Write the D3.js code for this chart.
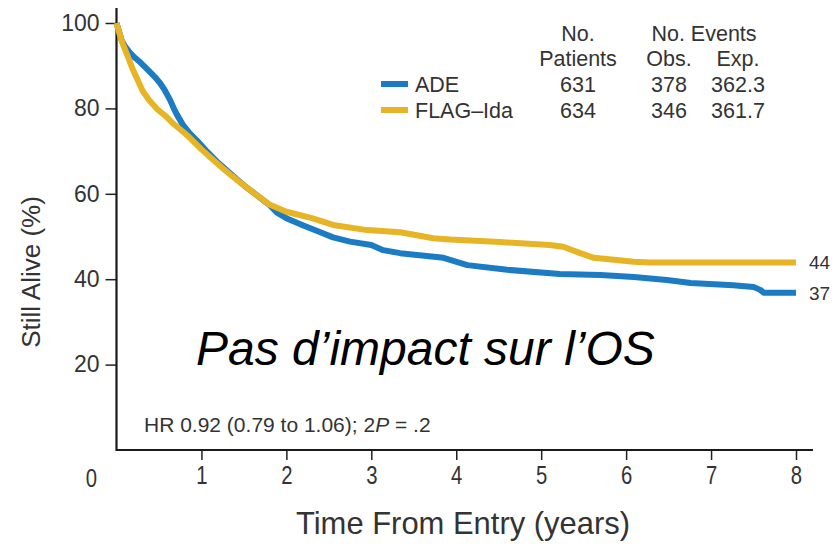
<!DOCTYPE html>
<html>
<head>
<meta charset="utf-8">
<script src="https://cdn.jsdelivr.net/npm/d3@7/dist/d3.min.js"></script>
<style>
  body { margin: 0; background: #fff; }
  svg { display: block; }
  text { font-family: "Liberation Sans", Arial, sans-serif; fill: #333; }
</style>
</head>
<body>
<svg width="832" height="547"></svg>
<script>
// survival curves (years, % alive)
const adeTime = [0, 0.03, 0.06, 0.1, 0.16, 0.22, 0.28, 0.34, 0.39, 0.45, 0.51, 0.57, 0.63, 0.67, 0.71, 0.78, 0.86, 0.95, 1.07, 1.2, 1.37, 1.5, 1.65, 1.8, 1.89, 2.0, 2.2, 2.4, 2.55, 2.75, 3.0, 3.14, 3.34, 3.85, 4.13, 4.6, 5.22, 5.7, 6.09, 6.48, 6.76, 7.26, 7.5, 7.58, 7.62, 8.0];
const adeSurv = [100, 98, 96, 94.5, 93, 91.8, 90.8, 89.6, 88.6, 87.4, 86, 84.2, 82, 80.2, 78.6, 76.2, 74.2, 72.4, 69.8, 67.2, 64.2, 62, 59.7, 57.4, 55.6, 54.3, 52.6, 51, 49.8, 48.8, 48, 46.8, 46.1, 45, 43.3, 42.2, 41.2, 41, 40.5, 39.8, 39.1, 38.6, 38.2, 37.5, 36.8, 36.8];
const flagTime = [0, 0.04, 0.08, 0.14, 0.19, 0.25, 0.31, 0.39, 0.48, 0.59, 0.67, 0.78, 0.87, 1.0, 1.1, 1.25, 1.37, 1.5, 1.65, 1.8, 2.0, 2.3, 2.55, 2.95, 3.34, 3.73, 3.93, 4.52, 5.1, 5.26, 5.46, 5.62, 6.09, 6.28, 8.0];
const flagSurv = [100, 97.2, 94.8, 91.8, 89.2, 86.6, 84, 81.8, 79.8, 78, 76.4, 74.6, 73, 70.4, 68.6, 66, 64, 62, 59.7, 57.5, 55.8, 54.3, 52.7, 51.5, 51, 49.6, 49.3, 48.7, 48, 47.6, 46.1, 45, 44.1, 43.9, 43.9];

// legend table
const groups = ["ADE", "FLAG\u2013Ida"];
const patients = ["631", "634"];
const obsEvents = ["378", "346"];
const expEvents = ["362.3", "361.7"];
const endLabels = ["37", "44"];
const colors = ["#1b7bc3", "#e6b424"];

const xTicks = [1, 2, 3, 4, 5, 6, 7, 8];
const yTicks = [20, 40, 60, 80, 100];

var svg = d3.select("svg");

var x = d3.scaleLinear().domain([0, 8]).range([116.5, 796]);
var y = d3.scaleLinear().domain([0, 100]).range([450, 23]);

var series = [
  { name: groups[0], pts: d3.zip(adeTime, adeSurv), color: colors[0], end: endLabels[0] },
  { name: groups[1], pts: d3.zip(flagTime, flagSurv), color: colors[1], end: endLabels[1] }
];

// axes
var yAxis = svg.append("g")
  .attr("transform", "translate(" + x(0) + ",0)")
  .call(d3.axisLeft(y).tickValues(yTicks).tickSize(11).tickPadding(6));
var xAxis = svg.append("g")
  .attr("transform", "translate(0," + y(0) + ")")
  .call(d3.axisBottom(x).tickValues(xTicks).tickSize(10).tickPadding(6));

[yAxis, xAxis].forEach(function (g) {
  g.select(".domain").remove();
  g.selectAll(".tick line").attr("stroke", "#222").attr("stroke-width", 1.5);
  g.selectAll(".tick text")
    .attr("fill", "#333")
    .style("font-family", "'Liberation Sans', Arial, sans-serif");
});
yAxis.selectAll(".tick text").style("font-size", "23px");
// condensed digits along the time axis
xAxis.selectAll(".tick text")
  .style("font-size", "26px")
  .attr("transform", "scale(0.78,1)");

// axis lines, meeting at the corner
svg.append("path")
  .attr("d", "M" + x(0) + "," + y(103.5) + "V" + y(0) + "H" + x(8.2))
  .attr("fill", "none")
  .attr("stroke", "#1a1a1a")
  .attr("stroke-width", 2.2);

// shared zero label in the corner
svg.append("text")
  .attr("transform", "translate(" + (x(0) - 25) + "," + (y(0) + 28) + ") scale(0.78,1)")
  .attr("text-anchor", "middle")
  .attr("dy", "0.35em")
  .style("font-size", "26px")
  .text("0");

// curves
var line = d3.line()
  .x(function (d) { return x(d[0]); })
  .y(function (d) { return y(d[1]); })
  .curve(d3.curveLinear);

svg.append("g")
  .selectAll("path")
  .data(series)
  .enter().append("path")
  .attr("d", function (d) { return line(d.pts); })
  .attr("fill", "none")
  .attr("stroke", function (d) { return d.color; })
  .attr("stroke-width", 6)
  .attr("stroke-linejoin", "round");

// values at the right end
svg.append("g")
  .selectAll("text")
  .data(series)
  .enter().append("text")
  .attr("x", x(8) + 13)
  .attr("y", function (d) { return y(d.pts[d.pts.length - 1][1]); })
  .attr("dy", "0.35em")
  .style("font-size", "19px")
  .text(function (d) { return d.end; });

// axis titles
svg.append("text")
  .attr("transform", "translate(31,272) rotate(-90)")
  .attr("text-anchor", "middle")
  .attr("dy", "0.35em")
  .style("font-size", "26px")
  .text("Still Alive (%)");

svg.append("text")
  .attr("x", 463)
  .attr("y", 523)
  .attr("text-anchor", "middle")
  .attr("dy", "0.35em")
  .attr("textLength", 334)
  .attr("lengthAdjust", "spacingAndGlyphs")
  .style("font-size", "32px")
  .text("Time From Entry (years)");

// legend table
var legend = svg.append("g").style("font-size", "21.5px");
var colPat = 578, colObs = 669, colExp = 738, row0 = 84, rowStep = 26;

legend.append("text").attr("x", colPat).attr("y", 33).attr("dy", "0.35em").attr("text-anchor", "middle").text("No.");
legend.append("text").attr("x", colPat).attr("y", 58).attr("dy", "0.35em").attr("text-anchor", "middle").text("Patients");
legend.append("text").attr("x", 704).attr("y", 33).attr("dy", "0.35em").attr("text-anchor", "middle").text("No. Events");
legend.append("text").attr("x", colObs).attr("y", 58).attr("dy", "0.35em").attr("text-anchor", "middle").text("Obs.");
legend.append("text").attr("x", colExp).attr("y", 58).attr("dy", "0.35em").attr("text-anchor", "middle").text("Exp.");

var rows = legend.selectAll("g.row")
  .data(groups)
  .enter().append("g")
  .attr("class", "row")
  .attr("transform", function (d, i) { return "translate(0," + (row0 + i * rowStep) + ")"; });

rows.append("line")
  .attr("x1", 381).attr("x2", 408)
  .attr("stroke", function (d, i) { return colors[i]; })
  .attr("stroke-width", 6);
rows.append("text").attr("x", 415).attr("dy", "0.35em").text(function (d) { return d; });
rows.append("text").attr("x", colPat).attr("dy", "0.35em").attr("text-anchor", "middle").text(function (d, i) { return patients[i]; });
rows.append("text").attr("x", colObs).attr("dy", "0.35em").attr("text-anchor", "middle").text(function (d, i) { return obsEvents[i]; });
rows.append("text").attr("x", colExp).attr("dy", "0.35em").attr("text-anchor", "middle").text(function (d, i) { return expEvents[i]; });

// hazard ratio note
var hr = svg.append("text")
  .attr("x", 144)
  .attr("y", 432)
  .style("font-size", "21px");
hr.append("tspan").text("HR 0.92 (0.79 to 1.06); 2");
hr.append("tspan").style("font-style", "italic").text("P");
hr.append("tspan").text(" = .2");

// overlaid statement
svg.append("text")
  .attr("x", 196)
  .attr("y", 365)
  .style("font-size", "48px")
  .style("font-style", "italic")
  .style("fill", "#000")
  .text("Pas d\u2019impact sur l\u2019OS");
</script>
</body>
</html>
